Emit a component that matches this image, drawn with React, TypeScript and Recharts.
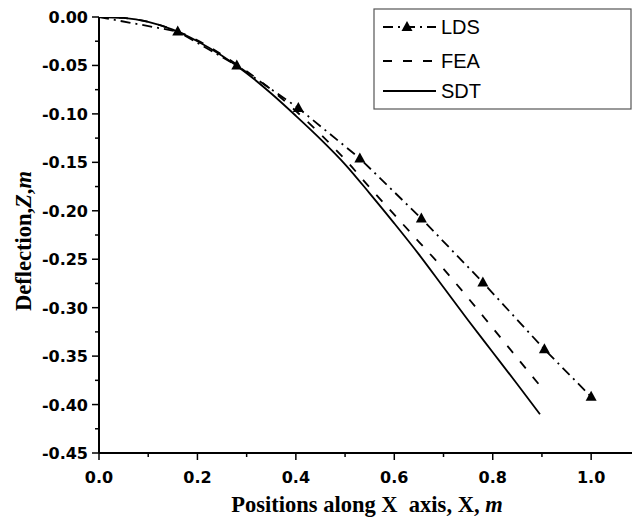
import { ComposedChart, Line, XAxis, YAxis, Label } from "recharts";

// LDS: measured points (triangles), line starts at the origin
const ldsX = [0, 0.16, 0.28, 0.405, 0.53, 0.655, 0.78, 0.905, 1.0];
const ldsY = [0, -0.015, -0.05, -0.094, -0.146, -0.208, -0.274, -0.343, -0.392];

// FEA: dashed curve
const feaX = [0, 0.05, 0.1, 0.15, 0.2, 0.25, 0.3, 0.35, 0.4, 0.45, 0.5, 0.55, 0.6, 0.65, 0.7, 0.75, 0.8, 0.85, 0.9];
const feaY = [0, -0.001, -0.005, -0.013, -0.024, -0.039, -0.056, -0.075, -0.097, -0.121, -0.147, -0.176, -0.204, -0.232, -0.26, -0.29, -0.321, -0.352, -0.383];

// SDT: solid curve
const sdtX = [0, 0.05, 0.1, 0.15, 0.2, 0.25, 0.3, 0.35, 0.4, 0.45, 0.5, 0.55, 0.6, 0.65, 0.7, 0.75, 0.8, 0.85, 0.896];
const sdtY = [0, -0.001, -0.005, -0.013, -0.025, -0.04, -0.058, -0.079, -0.102, -0.126, -0.152, -0.182, -0.213, -0.245, -0.279, -0.313, -0.346, -0.379, -0.41];

const xMajor = [0, 0.2, 0.4, 0.6, 0.8, 1.0];
const xMinor = [0.1, 0.3, 0.5, 0.7, 0.9];
const yMajor = [0, -0.05, -0.1, -0.15, -0.2, -0.25, -0.3, -0.35, -0.4, -0.45];
const yMinor = [-0.025, -0.075, -0.125, -0.175, -0.225, -0.275, -0.325, -0.375, -0.425];

const zip = (xs: number[], ys: number[]) => xs.map((x, i) => ({ x, y: ys[i] }));
const ldsData = zip(ldsX, ldsY);
const feaData = zip(feaX, feaY);
const sdtData = zip(sdtX, sdtY);

const isIn = (list: number[], v: any) => list.some((t) => Math.abs(t - Number(v)) < 1e-6);

const LDS_DASH = "10 5 2 5";
const FEA_DASH = "9 11";
const tickFont = { fontFamily: "DejaVu Sans", fontWeight: "bold" as const, fontSize: 16, fill: "#000" };
const titleFont = { fontFamily: "Liberation Serif", fontWeight: "bold" as const, fontSize: 22.5, fill: "#000" };

const XTick = (props: any) => {
  const { x, y, payload } = props;
  const major = isIn(xMajor, payload.value);
  return (
    <g>
      <line x1={x} x2={x} y1={y} y2={y + (major ? 7 : 4)} stroke="#000" strokeWidth={1.5} />
      {major && (
        <text x={x} y={y + 30} textAnchor="middle" {...tickFont}>
          {Number(payload.value).toFixed(1)}
        </text>
      )}
    </g>
  );
};

const YTick = (props: any) => {
  const { x, y, payload } = props;
  const major = isIn(yMajor, payload.value);
  return (
    <g>
      <line x1={x} x2={x - (major ? 7 : 4)} y1={y} y2={y} stroke="#000" strokeWidth={1.5} />
      {major && (
        <text x={x - 11} y={y + 6} textAnchor="end" {...tickFont}>
          {Number(payload.value).toFixed(2)}
        </text>
      )}
    </g>
  );
};

const Triangle = (props: any) => {
  const { cx, cy, index } = props;
  if (index === 0 || cx == null) return <g key={`t-${index}`} />;
  return (
    <polygon
      key={`t-${index}`}
      points={`${cx},${cy - 6} ${cx - 5.5},${cy + 4} ${cx + 5.5},${cy + 4}`}
      fill="#000"
    />
  );
};

function LegendBox() {
  const rows = [
    { name: "LDS", y: 19, dash: LDS_DASH, marker: true },
    { name: "FEA", y: 53, dash: FEA_DASH, marker: false },
    { name: "SDT", y: 83, dash: undefined, marker: false },
  ];
  return (
    <svg
      width={259}
      height={102}
      style={{ position: "absolute", left: 373, top: 8 }}
    >
      <rect x={1} y={1} width={257} height={100} fill="#fff" stroke="#555" strokeWidth={1.2} />
      {rows.map((r) => (
        <g key={r.name}>
          <line x1={10} x2={63} y1={r.y} y2={r.y} stroke="#000" strokeWidth={1.8} strokeDasharray={r.dash} />
          {r.marker && <polygon points={`34,${r.y - 6} 28.5,${r.y + 4} 39.5,${r.y + 4}`} fill="#000" />}
          <text x={68} y={r.y + 7} fontFamily="Liberation Sans" fontSize={20} fill="#000">
            {r.name}
          </text>
        </g>
      ))}
    </svg>
  );
}

export default function App() {
  return (
    <div style={{ position: "absolute", left: 0, top: 0, width: 633, height: 522, background: "#fff" }}>
      <ComposedChart width={633} height={522} margin={{ top: 17, right: 1, bottom: 0, left: 0 }}>
        <XAxis
          type="number"
          dataKey="x"
          domain={[0, 1.083]}
          ticks={[...xMajor, ...xMinor]}
          tick={XTick}
          tickSize={0}
          tickMargin={0}
          tickLine={false}
          interval={0}
          height={69}
          axisLine={{ stroke: "#000", strokeWidth: 2 }}
          allowDataOverflow
        >
          <Label
            content={() => (
              <text x={367} y={512} textAnchor="middle" {...titleFont}>
                {"Positions along X\u00A0 axis, X, "}
                <tspan fontStyle="italic">m</tspan>
              </text>
            )}
          />
        </XAxis>
        <YAxis
          type="number"
          domain={[-0.45, 0]}
          ticks={[...yMajor, ...yMinor]}
          tick={YTick}
          tickSize={0}
          tickMargin={0}
          tickLine={false}
          interval={0}
          width={99}
          axisLine={{ stroke: "#000", strokeWidth: 2 }}
          allowDataOverflow
        >
          <Label
            content={() => (
              <text transform="translate(31,241) rotate(-90)" textAnchor="middle" {...titleFont}>
                Deflection,<tspan fontStyle="italic">Z</tspan>,<tspan fontStyle="italic">m</tspan>
              </text>
            )}
          />
        </YAxis>
        <Line
          data={sdtData}
          dataKey="y"
          type="monotone"
          stroke="#000"
          strokeWidth={1.8}
          dot={false}
          activeDot={false}
          isAnimationActive={false}
        />
        <Line
          data={feaData}
          dataKey="y"
          type="monotone"
          stroke="#000"
          strokeWidth={1.8}
          strokeDasharray={FEA_DASH}
          dot={false}
          activeDot={false}
          isAnimationActive={false}
        />
        <Line
          data={ldsData}
          dataKey="y"
          type="linear"
          stroke="#000"
          strokeWidth={1.8}
          strokeDasharray={LDS_DASH}
          dot={Triangle}
          activeDot={false}
          isAnimationActive={false}
        />
      </ComposedChart>
      <LegendBox />
    </div>
  );
}
